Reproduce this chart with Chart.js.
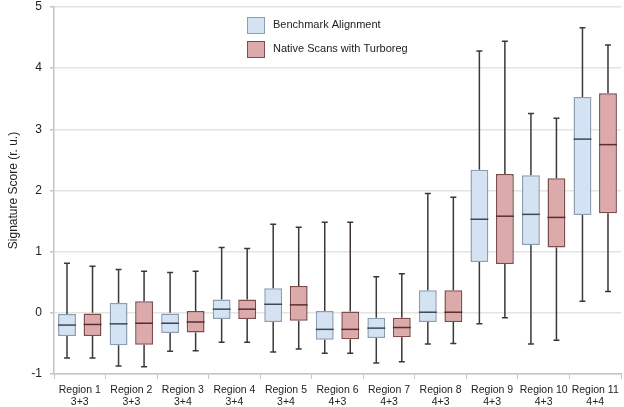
<!DOCTYPE html>
<html>
<head>
<meta charset="utf-8">
<script src="https://cdn.jsdelivr.net/npm/chart.js@4"></script>
<style>
  html, body { margin: 0; padding: 0; background: #fff; }
  #wrap { width: 624px; height: 407px; }
</style>
</head>
<body>
<div id="wrap"><canvas id="chart" width="624" height="407"></canvas></div>
<script>
// categorias e grupos
const regions = ['Region 1', 'Region 2', 'Region 3', 'Region 4', 'Region 5', 'Region 6', 'Region 7', 'Region 8', 'Region 9', 'Region 10', 'Region 11'];
const grades = ['3+3', '3+3', '3+4', '3+4', '3+4', '4+3', '4+3', '4+3', '4+3', '4+3', '4+4'];

// Benchmark Alignment
const benchMin = [-0.74, -0.87, -0.63, -0.48, -0.64, -0.66, -0.82, -0.51, -0.18, -0.51, 0.19];
const benchQ1  = [-0.38, -0.53, -0.33, -0.10, -0.15, -0.44, -0.41, -0.15, 0.83, 1.11, 1.60];
const benchMed = [-0.20, -0.18, -0.17, 0.06, 0.14, -0.27, -0.25, 0.01, 1.53, 1.61, 2.84];
const benchQ3  = [-0.02, 0.16, 0.00, 0.22, 0.40, 0.03, -0.08, 0.37, 2.34, 2.25, 3.53];
const benchMax = [0.81, 0.71, 0.66, 1.07, 1.45, 1.48, 0.59, 1.95, 4.28, 3.26, 4.66];

// Native Scans with Turboreg
const nativeMin = [-0.74, -0.88, -0.62, -0.48, -0.59, -0.66, -0.80, -0.50, -0.08, -0.45, 0.35];
const nativeQ1  = [-0.38, -0.52, -0.32, -0.10, -0.13, -0.43, -0.40, -0.15, 0.80, 1.07, 1.63];
const nativeMed = [-0.19, -0.17, -0.15, 0.06, 0.13, -0.27, -0.24, 0.01, 1.58, 1.56, 2.75];
const nativeQ3  = [0.00, 0.19, 0.03, 0.22, 0.44, 0.02, -0.08, 0.37, 2.27, 2.20, 3.59];
const nativeMax = [0.76, 0.68, 0.68, 1.05, 1.40, 1.48, 0.64, 1.89, 4.44, 3.18, 4.38];

const yTicks = [-1, 0, 1, 2, 3, 4, 5];

const seriesNames = ['Benchmark Alignment', 'Native Scans with Turboreg'];
const fills = ['#d3e3f4', '#dcaaaa'];
const borders = ['#8d9db2', '#7b4d4d'];
const medianColors = ['#3f4650', '#5a2e2e'];
const whiskerColors = ['#3a3a3a', '#3e3434'];

const stats = [
    { min: benchMin, q1: benchQ1, med: benchMed, q3: benchQ3, max: benchMax },
    { min: nativeMin, q1: nativeQ1, med: nativeMed, q3: nativeQ3, max: nativeMax }
];

const FONT = '"Liberation Sans", Arial, sans-serif';

// bigodes e medianas
const boxPlugin = {
    id: 'boxExtras',
    afterDatasetsDraw(chart) {
        const ctx = chart.ctx;
        const y = chart.scales.y;
        stats.forEach((s, di) => {
            const meta = chart.getDatasetMeta(di);
            meta.data.forEach((bar, i) => {
                const x = bar.x;
                const half = bar.width / 2;
                ctx.save();
                ctx.strokeStyle = whiskerColors[di];
                ctx.lineWidth = 1.5;
                ctx.beginPath();
                ctx.moveTo(x, y.getPixelForValue(s.q3[i]));
                ctx.lineTo(x, y.getPixelForValue(s.max[i]));
                ctx.moveTo(x, y.getPixelForValue(s.q1[i]));
                ctx.lineTo(x, y.getPixelForValue(s.min[i]));
                ctx.moveTo(x - 3, y.getPixelForValue(s.max[i]));
                ctx.lineTo(x + 3, y.getPixelForValue(s.max[i]));
                ctx.moveTo(x - 3, y.getPixelForValue(s.min[i]));
                ctx.lineTo(x + 3, y.getPixelForValue(s.min[i]));
                ctx.stroke();
                ctx.strokeStyle = medianColors[di];
                ctx.beginPath();
                const my = y.getPixelForValue(s.med[i]);
                ctx.moveTo(x - half, my);
                ctx.lineTo(x + half, my);
                ctx.stroke();
                ctx.restore();
            });
        });
    },
    afterDraw(chart) {
        // legenda
        const ctx = chart.ctx;
        ctx.save();
        seriesNames.forEach((name, i) => {
            const top = 17 + i * 24;
            ctx.fillStyle = fills[i];
            ctx.fillRect(247, top, 17, 16);
            ctx.strokeStyle = borders[i];
            ctx.lineWidth = 1;
            ctx.strokeRect(247.5, top + 0.5, 17, 16);
            ctx.fillStyle = '#222';
            ctx.font = '11px ' + FONT;
            ctx.textBaseline = 'middle';
            ctx.fillText(name, 273, top + 8);
        });
        ctx.restore();
    }
};

const data = {
    labels: regions.map((r, i) => [r, grades[i]]),
    datasets: stats.map((s, di) => ({
        label: seriesNames[di],
        data: s.q1.map((v, i) => [v, s.q3[i]]),
        backgroundColor: fills[di],
        borderColor: borders[di],
        borderWidth: 1.5,
        borderSkipped: false,
        barPercentage: 0.7,
        categoryPercentage: 0.99
    }))
};

const config = {
    type: 'bar',
    data: data,
    options: {
        responsive: false,
        animation: false,
        layout: { padding: { top: 0, right: 3, left: 0, bottom: 0 } },
        plugins: {
            legend: { display: false },
            tooltip: { enabled: false }
        },
        scales: {
            x: {
                grid: {
                    drawOnChartArea: false,
                    drawTicks: true,
                    tickLength: 5,
                    tickColor: '#c4c4c4'
                },
                border: { color: '#c4c4c4', width: 1.5 },
                ticks: {
                    color: '#222',
                    font: { family: FONT, size: 10.5, lineHeight: 1.15 },
                    padding: 5,
                    maxRotation: 0,
                    autoSkip: false
                },
                afterFit(scale) { scale.height = 33; }
            },
            y: {
                min: -1,
                max: 5,
                afterBuildTicks(scale) { scale.ticks = yTicks.map(v => ({ value: v })); },
                grid: {
                    color: '#e4e4e4',
                    lineWidth: 1.5,
                    tickLength: 4,
                    tickColor: '#c4c4c4'
                },
                border: { color: '#c4c4c4', width: 1.5 },
                ticks: {
                    color: '#222',
                    font: { family: FONT, size: 12 },
                    padding: 8
                },
                title: {
                    display: true,
                    text: 'Signature Score (r. u.)',
                    color: '#222',
                    font: { family: FONT, size: 12 },
                    padding: { top: 6, bottom: 6 }
                },
                afterFit(scale) {
                    scale.width = 54;
                    scale.paddingTop = 7;
                }
            }
        }
    },
    plugins: [boxPlugin]
};

new Chart(document.getElementById('chart').getContext('2d'), config);
</script>
</body>
</html>
